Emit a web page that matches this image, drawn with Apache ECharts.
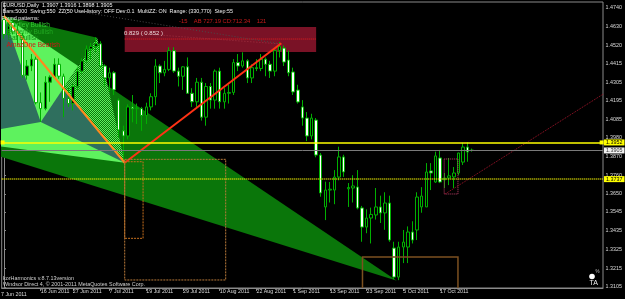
<!DOCTYPE html>
<html><head><meta charset="utf-8">
<script src="https://cdn.jsdelivr.net/npm/echarts@6/dist/echarts.min.js"></script>
<style>html,body{margin:0;padding:0;background:#000;}#c{width:625px;height:299px;}</style>
</head><body><div id="c"></div>
<script>
// ---------- data ----------
const MONTHS = ['Jan','Feb','Mar','Apr','May','Jun','Jul','Aug','Sep','Oct','Nov','Dec'];
const categories = (function () {
  const out = []; let t = Date.UTC(2011, 5, 6);
  while (out.length < 131) {
    const d = new Date(t), wd = d.getUTCDay();
    if (wd !== 0 && wd !== 6) out.push(d.getUTCDate() + ' ' + MONTHS[d.getUTCMonth()] + ' ' + d.getUTCFullYear());
    t += 86400000;
  }
  return out;
})();

// [open, close, low, high], one per trading day from 6 Jun 2011
const ohlc = [
[1.4672,1.4585,1.4560,1.4693],[1.4585,1.4655,1.4570,1.4680],[1.4655,1.4600,1.4585,1.4675],[1.4600,1.4580,1.4520,1.4650],
[1.4580,1.4345,1.4330,1.4595],[1.4345,1.4400,1.4320,1.4435],[1.4400,1.4440,1.4370,1.4470],[1.4440,1.4185,1.4175,1.4455],
[1.4185,1.4150,1.4072,1.4245],[1.4150,1.4305,1.4140,1.4340],[1.4305,1.4335,1.4190,1.4345],[1.4335,1.4410,1.4330,1.4445],
[1.4410,1.4340,1.4325,1.4445],[1.4340,1.4210,1.4100,1.4355],[1.4210,1.4180,1.4160,1.4275],[1.4180,1.4280,1.4140,1.4295],
[1.4280,1.4370,1.4260,1.4390],[1.4370,1.4430,1.4355,1.4445],[1.4430,1.4500,1.4420,1.4520],[1.4500,1.4515,1.4440,1.4535],
[1.4515,1.4530,1.4480,1.4568],[1.4530,1.4400,1.4390,1.4545],[1.4400,1.4330,1.4280,1.4410],[1.4330,1.4360,1.4250,1.4390],
[1.4360,1.4260,1.4230,1.4370],[1.4200,1.4025,1.3980,1.4210],[1.4020,1.3990,1.3837,1.4050],[1.3990,1.4160,1.3970,1.4175],
[1.4160,1.4150,1.4070,1.4230],[1.4150,1.4155,1.4060,1.4180],[1.4150,1.4110,1.4020,1.4160],[1.4110,1.4160,1.4060,1.4185],
[1.4160,1.4220,1.4140,1.4240],[1.4220,1.4400,1.4170,1.4440],[1.4400,1.4360,1.4300,1.4410],[1.4360,1.4380,1.4340,1.4430],
[1.4380,1.4490,1.4370,1.4510],[1.4490,1.4370,1.4360,1.4510],[1.4370,1.4340,1.4280,1.4390],[1.4340,1.4395,1.4260,1.4400],
[1.4395,1.4240,1.4240,1.4450],[1.4240,1.4190,1.4160,1.4270],[1.4190,1.4305,1.4160,1.4330],[1.4305,1.4100,1.4080,1.4330],
[1.4100,1.4280,1.4050,1.4300],[1.4280,1.4200,1.4150,1.4300],[1.4200,1.4370,1.4150,1.4380],[1.4370,1.4190,1.4150,1.4390],
[1.4190,1.4240,1.4150,1.4270],[1.4240,1.4245,1.4180,1.4290],[1.4245,1.4420,1.4230,1.4440],[1.4420,1.4400,1.4370,1.4470],
[1.4400,1.4430,1.4390,1.4480],[1.4430,1.4330,1.4300,1.4440],[1.4330,1.4390,1.4300,1.4410],[1.4390,1.4385,1.4370,1.4440],
[1.4385,1.4440,1.4370,1.4470],[1.4440,1.4410,1.4340,1.4450],[1.4410,1.4370,1.4330,1.4430],[1.4370,1.4490,1.4340,1.4500],
[1.4490,1.4515,1.4450,1.4540],[1.4505,1.4423,1.4400,1.4520],[1.4435,1.4360,1.4340,1.4490],[1.4365,1.4248,1.4230,1.4390],
[1.4259,1.4189,1.4180,1.4290],[1.4160,1.4095,1.4050,1.4200],[1.4095,1.3990,1.3960,1.4130],[1.3990,1.4095,1.3970,1.4120],
[1.4083,1.3878,1.3865,1.4095],[1.3878,1.3656,1.3634,1.3890],[1.3574,1.3673,1.3497,1.3722],[1.3673,1.3678,1.3600,1.3720],
[1.3673,1.3749,1.3590,1.3790],[1.3749,1.3867,1.3730,1.3927],[1.3867,1.3779,1.3750,1.3880],[1.3680,1.3688,1.3574,1.3714],
[1.3685,1.3697,1.3600,1.3760],[1.3691,1.3568,1.3560,1.3790],[1.3568,1.3456,1.3370,1.3580],[1.3456,1.3509,1.3420,1.3560],
[1.3509,1.3530,1.3360,1.3570],[1.3527,1.3574,1.3500,1.3685],[1.3574,1.3539,1.3480,1.3640],[1.3539,1.3597,1.3440,1.3660],
[1.3597,1.3380,1.3370,1.3640],[1.3333,1.3163,1.3150,1.3370],[1.3163,1.3339,1.3145,1.3370],[1.3339,1.3368,1.3245,1.3439],
[1.3339,1.3427,1.3245,1.3460],[1.3427,1.3380,1.3360,1.3490],[1.3439,1.3632,1.3380,1.3660],[1.3574,1.3638,1.3540,1.3690],
[1.3574,1.3779,1.3574,1.3831],[1.3785,1.3773,1.3673,1.3831],[1.3720,1.3873,1.3715,1.3898],[1.3861,1.3720,1.3714,1.3908],
[1.3732,1.3744,1.3685,1.3773],[1.3744,1.3756,1.3702,1.3861],[1.3750,1.3773,1.3685,1.3808],[1.3773,1.3890,1.3761,1.3892],
[1.3837,1.3925,1.3820,1.3950],[1.3925,1.3896,1.3839,1.3953],[1.3907,1.3905,1.3898,1.3916]
];

const yTicks = [1.4740,1.4630,1.4520,1.4415,1.4305,1.4195,1.4085,1.3980,1.3870,1.3760,1.3650,1.3545,1.3435,1.3325,1.3215,1.3105];
const dateTicks = ['16 Jun 2011','27 Jun 2011','7 Jul 2011','19 Jul 2011','29 Jul 2011','10 Aug 2011','22 Aug 2011','1 Sep 2011','13 Sep 2011','23 Sep 2011','5 Oct 2011','17 Oct 2011'];
const firstDateLabel = '7 Jun 2011';

// zigzag / pattern points: [bar index, price]
const pX  = [-13, 1.3972];
const pA  = [0, 1.4693];
const pB1 = [8, 1.4072];
const pC1 = [20.3, 1.4566];
const pB  = [26.3, 1.3833];
const pC  = [60.4, 1.4533];
const pD  = [85.6, 1.3142];

// boxes and levels: [[bar, price], [bar, price]]
const ratioBox   = [[26.3, 1.4629], [68.0, 1.4482]];
const ratioLine  = [[26.3, 1.4558], [68.0, 1.4558]];
const zoneSmall  = [[26.3, 1.3839], [30.3, 1.3390]];
const zoneLarge  = [[26.3, 1.3853], [48.3, 1.3146]];
const zoneBrown  = [[78.1, 1.3280], [98.9, 1.2950]];
const zonePink   = [[95.9, 1.3855], [98.9, 1.3650]];
const projLine   = [[96.1, 1.3650], [134.0, 1.4294]];
const faintLine1 = [[11.5, 1.4740], [60.4, 1.4529]];
const faintLine2 = [[26.3, 1.4596], [60.4, 1.4529]];
const levelStop = 1.3952, levelBid = 1.3905, levelTarget = 1.3737;

const headerLines = ['EURUSD,Daily  1.3907 1.3916 1.3898 1.3905',
  'Bars:5000  Swing:550  ZZ(50 UseHistory: OFF Dev:0.1  MultiZZ: ON  Range: (330,770)  Step:55',
  'Found patterns:'];
const patternNames = ['Gartley Bullish', 'Butterfly Bullish', 'Bat Bullish', 'AmazOne Bearish'];
const abcdText = '-15    AB 727.19 CD:712.34    121';
const ratioText = '0.829 ( 0.852 )';
const footerLines = ['korHarmonics v.8.7.13version', 'Windsor Direct 4, \u00a9 2001-2011 MetaQuotes Software Corp.'];

// ---------- helpers ----------
function intersect(p1, p2, p3, p4) {
  const d = (p1[0]-p2[0])*(p3[1]-p4[1]) - (p1[1]-p2[1])*(p3[0]-p4[0]);
  const a = p1[0]*p2[1]-p1[1]*p2[0], b = p3[0]*p4[1]-p3[1]*p4[0];
  return [(a*(p3[0]-p4[0]) - (p1[0]-p2[0])*b)/d, (a*(p3[1]-p4[1]) - (p1[1]-p2[1])*b)/d];
}
const pI = intersect(pB1, pC1, pA, pB);
const pJ = intersect(pB1, pC1, pA, pD);
function rectPts(r) { return [[r[0][0], r[0][1]], [r[1][0], r[0][1]], [r[1][0], r[1][1]], [r[0][0], r[1][1]]]; }

const LIME = '#5ef25e', TEAL = '#2f6f5e', DG = '#0a760a';
const stipple = document.createElement('canvas');
stipple.width = 2; stipple.height = 2;
(function(){ const g = stipple.getContext('2d'); g.fillStyle = DG; g.fillRect(0,0,2,2); g.fillStyle = LIME; g.fillRect(0,0,1,1); g.fillRect(1,1,1,1); })();

const fills = [
  { pts: [pX, pA, pD], fill: DG },
  { pts: [pA, pB1, pC1], fill: DG },
  { pts: [pA, pB1, pJ], fill: LIME },
  { pts: [pB1, pC1, pB], fill: { image: stipple, repeat: 'repeat' } },
  { pts: [pX, pA, pB], fill: LIME },
  { pts: [pX, pA, pB1], fill: TEAL },
  { pts: [pB1, pI, pB], fill: TEAL },
  { pts: rectPts(ratioBox), fill: '#7a1226' }
];
const strokes = [
  { pts: ratioLine, color: '#e62020', width: 1, dash: [1, 1] },
  { pts: faintLine1, color: '#4a4a4a', width: 1, dash: [1, 2] },
  { pts: faintLine2, color: '#a03040', width: 1, dash: [1, 2] },
  { pts: [pA, pB], color: '#ff8a1c', width: 2 },
  { pts: [pB, pC], color: '#ff3214', width: 2 },
  { pts: rectPts(zoneSmall), color: '#c8701e', width: 1, dash: [2, 1], closed: true },
  { pts: rectPts(zoneLarge), color: '#b97a3a', width: 1, dash: [2, 1], closed: true },
  { pts: rectPts(zoneBrown), color: '#7c5020', width: 1.5, closed: true },
  { pts: rectPts(zonePink), color: '#c0406a', width: 1, dash: [1, 1], closed: true },
  { pts: projLine, color: '#a0142a', width: 1, dash: [1, 1] }
];
const markers = [[-0.3, levelStop], [130.2, levelStop]];

// ---------- chart ----------
const chart = echarts.init(document.getElementById('c'), null, { renderer: 'canvas' });
const smallFont = 'Liberation Sans';
const isDateTick = (i, v) => dateTicks.indexOf(v) >= 0;

const option = {
  backgroundColor: '#000',
  animation: false,
  grid: { left: 1.7, right: 20.7, top: 2, bottom: 11, show: true, borderColor: '#8a8a8a', borderWidth: 1, backgroundColor: '#000' },
  xAxis: [
    { type: 'category', data: categories, boundaryGap: true,
      axisLine: { show: true, lineStyle: { color: '#8a8a8a' } },
      axisTick: { show: true, alignWithLabel: true, interval: isDateTick, length: 3, lineStyle: { color: '#8a8a8a' } },
      axisLabel: { interval: isDateTick, align: 'left', margin: 1.5, color: '#dcdcdc', fontSize: 5.3, fontFamily: smallFont },
      splitLine: { show: false } },
    { type: 'value', min: -0.5, max: 130.5, show: false }
  ],
  yAxis: { type: 'value', position: 'right', min: 1.3099, max: 1.4775, scale: true,
    axisLine: { show: true, lineStyle: { color: '#8a8a8a' } },
    axisTick: { show: true, customValues: yTicks, length: 2, lineStyle: { color: '#8a8a8a' } },
    axisLabel: { customValues: yTicks, formatter: v => Number(v).toFixed(4), color: '#dcdcdc', fontSize: 5.4, fontFamily: smallFont, margin: 2.5 },
    splitLine: { show: false } },
  series: [
    { type: 'custom', xAxisIndex: 1, yAxisIndex: 0, z: 1, clip: true, silent: true,
      data: fills.map((f, i) => [i, 1.4]),
      renderItem: (params, api) => {
        const s = fills[params.dataIndex];
        return { type: 'polygon', shape: { points: s.pts.map(p => api.coord(p)) }, style: { fill: s.fill } };
      } },
    { type: 'candlestick', xAxisIndex: 0, yAxisIndex: 0, z: 2, barWidth: 3, silent: true,
      data: ohlc,
      itemStyle: { color: '#000', color0: '#fff', borderColor: '#00b000', borderColor0: '#00b000', borderWidth: 1 } },
    { type: 'custom', xAxisIndex: 1, yAxisIndex: 0, z: 3, clip: true, silent: true,
      data: strokes.map((f, i) => [i, 1.4]),
      renderItem: (params, api) => {
        const s = strokes[params.dataIndex];
        const pts = s.pts.map(p => api.coord(p));
        return { type: s.closed ? 'polygon' : 'polyline', shape: { points: pts },
          style: { fill: 'none', stroke: s.color, lineWidth: s.width, lineDash: s.dash || null } };
      } },
    { type: 'line', xAxisIndex: 0, yAxisIndex: 0, z: 4, data: [], silent: true,
      markLine: { silent: true, animation: false, precision: 4, symbol: ['none', 'none'],
        label: { position: 'end', distance: 1, fontSize: 5.4, fontFamily: smallFont, padding: [1, 2, 0, 2], formatter: p => Number(p.value).toFixed(4) },
        data: [
          { yAxis: levelBid, lineStyle: { color: '#7a7a7a', width: 1, type: 'solid' }, label: { backgroundColor: '#f2f2f2', color: '#333' } },
          { yAxis: levelTarget, lineStyle: { color: '#e6e600', width: 1.5, type: [1, 1] }, label: { backgroundColor: '#ffff00', color: '#000' } },
          { yAxis: levelStop, lineStyle: { color: '#ffff00', width: 1.5, type: 'solid' }, label: { backgroundColor: '#ffff00', color: '#000' } }
        ] } },
    { type: 'custom', xAxisIndex: 1, yAxisIndex: 0, z: 5, silent: true,
      data: markers,
      renderItem: (params, api) => {
        const c = api.coord(markers[params.dataIndex]);
        return { type: 'rect', shape: { x: c[0] - 2, y: c[1] - 2, width: 4, height: 4 }, style: { fill: '#ffff00' } };
      } }
  ],
  graphic: [
    { type: 'text', x: 2.7, y: 5.3, z: 10, style: { text: headerLines[0], fill: '#f0f0f0', font: '5.4px "Liberation Sans"', verticalAlign: 'middle' } },
    { type: 'text', x: 2.7, y: 11.8, z: 10, style: { text: headerLines[1], fill: '#f0f0f0', font: '5.4px "Liberation Sans"', verticalAlign: 'middle' } },
    { type: 'text', x: 1.5, y: 18.3, z: 10, style: { text: headerLines[2], fill: '#e8e8e8', font: '5.4px "Liberation Sans"', verticalAlign: 'middle' } },
    { type: 'text', x: 7.5, y: 25.2, z: 10, style: { text: patternNames[0], fill: '#32c832', font: '6.6px "Liberation Sans"', verticalAlign: 'middle' } },
    { type: 'text', x: 7.5, y: 31.9, z: 10, style: { text: patternNames[1], fill: '#22a822', font: '6.6px "Liberation Sans"', verticalAlign: 'middle' } },
    { type: 'text', x: 7.5, y: 38.6, z: 10, style: { text: patternNames[2], fill: '#178a17', font: '6.6px "Liberation Sans"', verticalAlign: 'middle' } },
    { type: 'text', x: 6.5, y: 45.3, z: 10, style: { text: patternNames[3], fill: '#d41414', font: '6.6px "Liberation Sans"', verticalAlign: 'middle' } },
    { type: 'text', x: 179, y: 21.6, z: 10, style: { text: abcdText, fill: '#c81a1a', font: '5.8px "Liberation Sans"', verticalAlign: 'middle' } },
    { type: 'text', x: 124, y: 33.4, z: 10, style: { text: ratioText, fill: '#e8d8d8', font: '6px "Liberation Sans"', verticalAlign: 'middle' } },
    { type: 'text', x: 3, y: 278.3, z: 10, style: { text: footerLines[0], fill: '#d0d0d0', font: '5.4px "Liberation Sans"', verticalAlign: 'middle' } },
    { type: 'text', x: 3, y: 285, z: 10, style: { text: footerLines[1], fill: '#d0d0d0', font: '5.4px "Liberation Sans"', verticalAlign: 'middle' } },
    { type: 'text', x: 1, y: 295, z: 10, style: { text: firstDateLabel, fill: '#dcdcdc', font: '5.3px "Liberation Sans"', verticalAlign: 'middle' } },
    { type: 'circle', x: 592, y: 276.5, z: 10, shape: { r: 2.8 }, style: { fill: '#ffffff' } },
    { type: 'text', x: 595.5, y: 272, z: 10, style: { text: '%', fill: '#bdbdbd', font: '4.5px "Liberation Sans"', verticalAlign: 'middle' } },
    { type: 'text', x: 589.5, y: 283.5, z: 10, style: { text: 'TA', fill: '#f0f0f0', font: '7px "Liberation Sans"', verticalAlign: 'middle' } }
  ]
};
chart.setOption(option);
</script>
</body></html>
